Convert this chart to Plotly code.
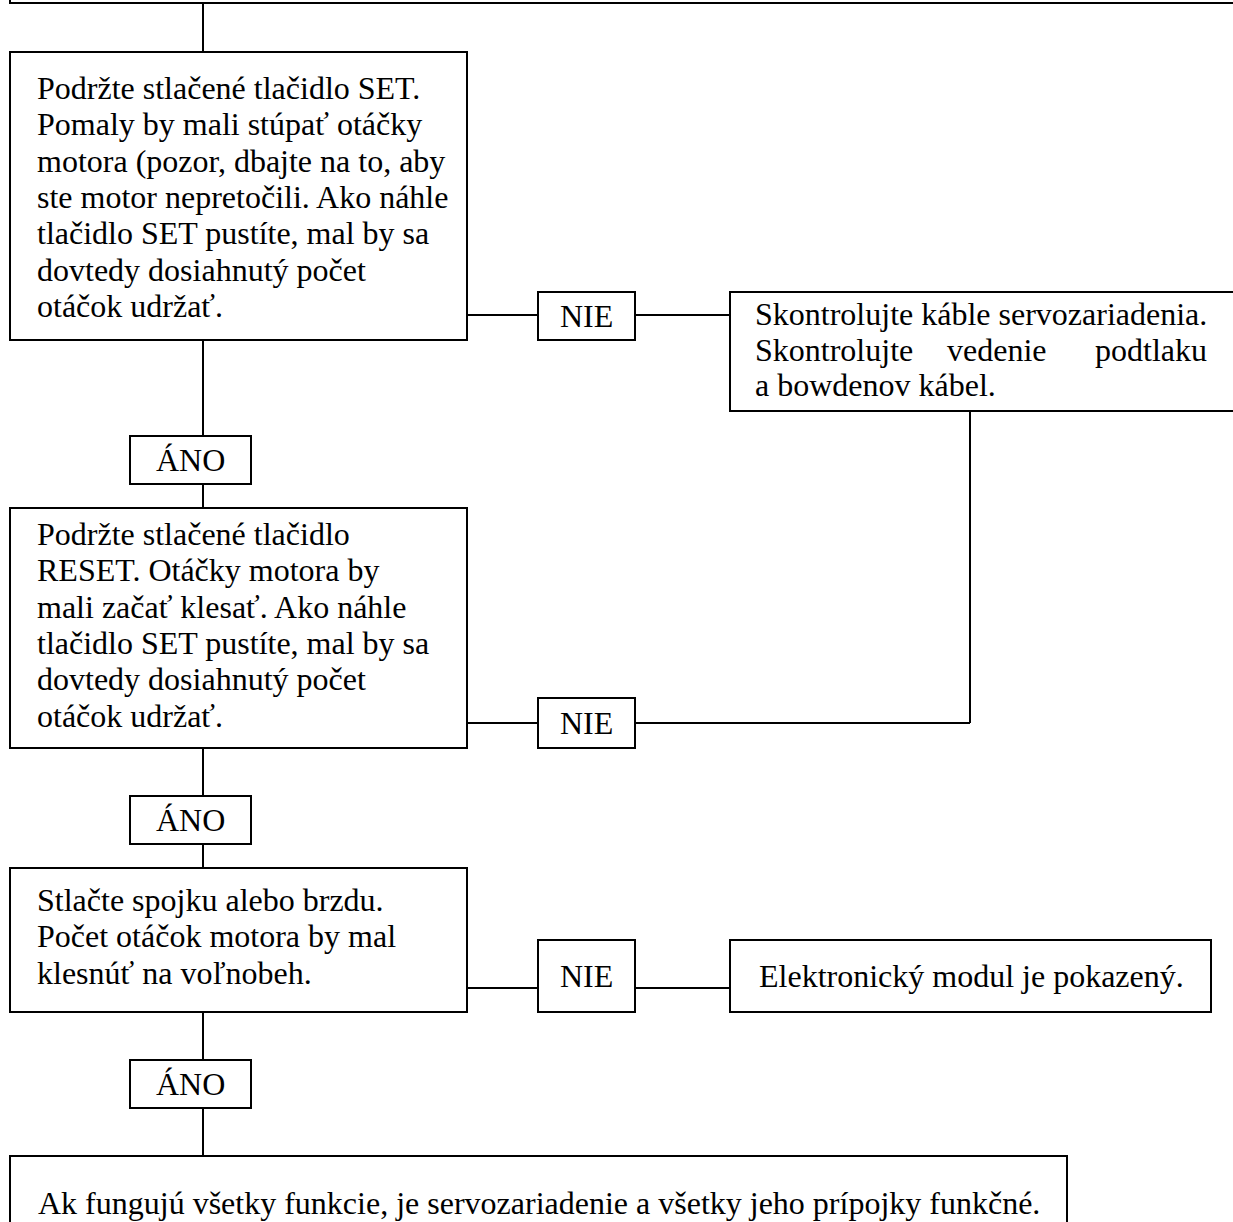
import plotly.graph_objects as go

W, H = 1233, 1222

# main column boxes (left side)
step_lines = [
    ["Podržte stlačené tlačidlo SET.",
     "Pomaly by mali stúpať otáčky",
     "motora (pozor, dbajte na to, aby",
     "ste motor nepretočili. Ako náhle",
     "tlačidlo SET pustíte, mal by sa",
     "dovtedy dosiahnutý počet",
     "otáčok udržať."],
    ["Podržte stlačené tlačidlo",
     "RESET. Otáčky motora by",
     "mali začať klesať. Ako náhle",
     "tlačidlo SET pustíte, mal by sa",
     "dovtedy dosiahnutý počet",
     "otáčok udržať."],
    ["Stlačte spojku alebo brzdu.",
     "Počet otáčok motora by mal",
     "klesnúť na voľnobeh."],
]
step_boxes = [(10, 467, 52, 340), (10, 467, 508, 748), (10, 467, 868, 1012)]
step_first_y = [88, 534, 900]
line_gap = 36.3

yes_label = "ÁNO"
yes_boxes = [(130, 251, 436, 484), (130, 251, 796, 844), (130, 251, 1060, 1108)]

no_label = "NIE"
no_boxes = [(538, 635, 292, 340), (538, 635, 698, 748), (538, 635, 940, 1012)]
no_link_y = [315, 723, 988]

check_lines = ["Skontrolujte káble servozariadenia.",
               ["Skontrolujte", "vedenie", "podtlaku"],
               "a bowdenov kábel."]
check_box = (730, 1260, 292, 411)
check_y = [314, 350, 385]

fault_text = "Elektronický modul je pokazený."
fault_box = (730, 1211, 940, 1012)

final_text = "Ak fungujú všetky funkcie, je servozariadenie a všetky jeho prípojky funkčné."
final_box = (10, 1067, 1156, 1260)

top_box = (10, 1260, -60, 3)
spine_x = 203
loop_x = 970

FONT = dict(family="Liberation Serif", size=32, color="black")
LW = 2

fig = go.Figure()
shapes = []
ann = []


def rect(b):
    shapes.append(dict(type="rect", xref="x", yref="y", x0=b[0], x1=b[1], y0=b[2], y1=b[3],
                       line=dict(color="black", width=LW), fillcolor="rgba(0,0,0,0)"))


def seg(x0, y0, x1, y1):
    shapes.append(dict(type="line", xref="x", yref="y", x0=x0, y0=y0, x1=x1, y1=y1,
                       line=dict(color="black", width=LW)))


def text(x, y, s, anchor="left"):
    ann.append(dict(x=x, y=y, xref="x", yref="y", text=s, showarrow=False,
                    xanchor=anchor, yanchor="middle", font=FONT))


rect(top_box)

# vertical spine
stops = [top_box[3]]
for sb, yb in zip(step_boxes, yes_boxes):
    seg(spine_x, stops[-1], spine_x, sb[2])
    seg(spine_x, sb[3], spine_x, yb[2])
    stops.append(yb[3])
seg(spine_x, stops[-1], spine_x, final_box[2])

for b, lines, y0 in zip(step_boxes, step_lines, step_first_y):
    rect(b)
    for i, s in enumerate(lines):
        text(35, y0 + i * line_gap, s)

for b in yes_boxes:
    rect(b)
    text((b[0] + b[1]) / 2, (b[2] + b[3]) / 2, yes_label, "center")

for b, ly, sb in zip(no_boxes, no_link_y, step_boxes):
    rect(b)
    text((b[0] + b[1]) / 2, (b[2] + b[3]) / 2, no_label, "center")
    seg(sb[1], ly, b[0], ly)

# NIE 1 -> check box, NIE 2 loops back up to it
seg(no_boxes[0][1], no_link_y[0], check_box[0], no_link_y[0])
seg(no_boxes[1][1], no_link_y[1], loop_x, no_link_y[1])
seg(loop_x, no_link_y[1], loop_x, check_box[3])
seg(no_boxes[2][1], no_link_y[2], fault_box[0], no_link_y[2])

rect(check_box)
text(753, check_y[0], check_lines[0])
words = check_lines[1]
text(753, check_y[1], words[0])
text(997, check_y[1], words[1], "center")
text(1209, check_y[1], words[2], "right")
text(753, check_y[2], check_lines[2])

rect(fault_box)
text(757, (fault_box[2] + fault_box[3]) / 2, fault_text)

rect(final_box)
text(36, 1203, final_text)

fig.update_layout(
    width=W, height=H,
    margin=dict(l=0, r=0, t=0, b=0),
    paper_bgcolor="white", plot_bgcolor="white",
    showlegend=False,
    shapes=shapes, annotations=ann,
    xaxis=dict(range=[0, W], visible=False, fixedrange=True),
    yaxis=dict(range=[H, 0], visible=False, fixedrange=True),
)

# drop the default body margin so the figure fills the window exactly
fig.write_html(
    "out.html",
    config={"displayModeBar": False},
    post_script="document.body.style.margin='0';document.body.style.overflow='hidden';",
)
